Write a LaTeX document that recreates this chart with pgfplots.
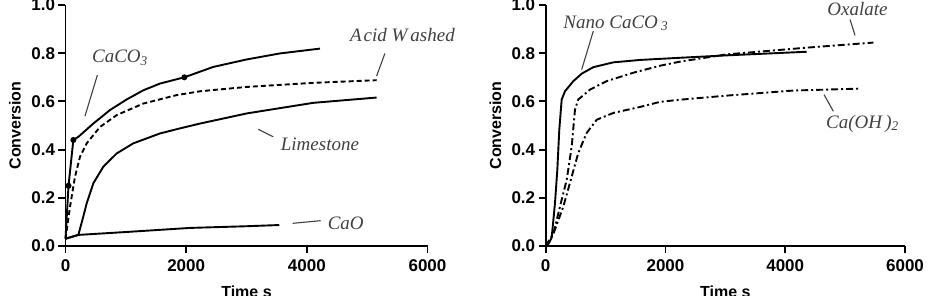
\documentclass[border=0pt]{standalone}
\usepackage{fontspec}
\setmainfont{Liberation Sans}
\newfontfamily\lserif{Liberation Serif}
\usepackage{pgfplots}
\pgfplotsset{compat=1.18}
\definecolor{anno}{HTML}{404040}
\tikzset{anno/.style={font=\lserif\itshape\fontsize{19}{19}\selectfont, text=anno, inner sep=0pt, anchor=center},
  leader/.style={draw=anno, line width=1.1pt}}
\pgfplotsset{prism/.style={
  scale only axis, anchor=south west, height=241pt,
  xmin=0, xmax=6000, ymin=0, ymax=1,
  axis lines=left, axis line style={-, line width=1.9pt},
  xtick={0,2000,4000,6000}, ytick={0,0.2,0.4,0.6,0.8,1},
  tick style={line width=1.9pt, black}, major tick length=7pt, tick align=outside,
  /pgf/number format/assume math mode=true,
  xticklabel style={/pgf/number format/1000 sep={}, yshift=-3pt},
  yticklabel style={/pgf/number format/.cd, fixed, fixed zerofill, precision=1},
  tick label style={font=\fontsize{17}{17}\selectfont\bfseries},
  xlabel={Time s}, ylabel={Conversion},
  label style={font=\fontsize{16}{16}\selectfont\bfseries},
  xlabel style={at={(axis description cs:0.5,0)}, anchor=base, yshift=-52pt, inner sep=0pt},
  ylabel style={at={(axis description cs:-0.14,0.5)}, anchor=center, rotate=0, inner sep=0pt},
  clip=false,
  every axis plot/.append style={line width=1.9pt, black},
}}
\begin{document}
\begin{tikzpicture}
\begin{axis}[prism, at={(65.5pt,50pt)}, width=362pt]
% CaCO3
\addplot[no marks] coordinates {(0,0.03) (50,0.25) (130,0.44) (213,0.453) (461,0.508) (737,0.564) (1014,0.608) (1289,0.646) (1566,0.674) (1970,0.70) (2449,0.743) (3002,0.774) (3554,0.799) (4217,0.819)};
\addplot[only marks, mark=*, mark size=2pt] coordinates {(50,0.25) (130,0.44) (1970,0.70)};
% Acid washed
\addplot[no marks, dash pattern=on 5pt off 3pt] coordinates {(0,0.03) (75,0.163) (157,0.287) (240,0.37) (351,0.426) (572,0.494) (848,0.543) (1289,0.591) (1842,0.626) (2229,0.642) (3002,0.66) (4106,0.677) (5156,0.688)};
% Limestone
\addplot[no marks] coordinates {(0,0.03) (213,0.046) (295,0.122) (351,0.177) (461,0.26) (627,0.329) (848,0.384) (1124,0.426) (1566,0.467) (1897,0.488) (2229,0.508) (3002,0.55) (4106,0.594) (5156,0.616)};
% CaO
\addplot[no marks] coordinates {(0,0.03) (213,0.046) (1000,0.058) (2063,0.075) (3000,0.082) (3543,0.087)};
\node[anno] at (axis cs:903,0.78) {CaCO\textsubscript{3}};
\draw[leader] (axis cs:528,0.709) -- (axis cs:323,0.539);
\node[anno] at (axis cs:5584,0.874) {A\kern2pt cid W\kern3pt ashed};
\draw[leader] (axis cs:5294,0.799) -- (axis cs:5156,0.705);
\node[anno] at (axis cs:4217,0.423) {Limestone};
\draw[leader] (axis cs:3195,0.484) -- (axis cs:3443,0.453);
\node[anno] at (axis cs:4645,0.095) {CaO};
\draw[leader] (axis cs:3765,0.094) -- (axis cs:4229,0.105);
\end{axis}
\begin{axis}[prism, at={(545.7pt,50pt)}, width=359.3pt]
% Nano CaCO3
\addplot[no marks] coordinates {(0,0) (50,0.01) (100,0.035) (155,0.178) (194,0.316) (227,0.483) (267,0.608) (322,0.642) (461,0.684) (601,0.715) (795,0.742) (1129,0.762) (1575,0.772) (2243,0.781) (3023,0.791) (4359,0.806)};
% Oxalate
\addplot[no marks, dash pattern=on 7pt off 3pt on 2pt off 3pt] coordinates {(0,0) (127,0.05) (239,0.164) (351,0.275) (434,0.413) (489,0.566) (544,0.608) (740,0.649) (1019,0.684) (1463,0.719) (1909,0.748) (2243,0.765) (3023,0.795) (4359,0.823) (5471,0.844)};
% Ca(OH)2
\addplot[no marks, dash pattern=on 7pt off 3pt on 2pt off 3pt] coordinates {(0,0) (127,0.05) (295,0.164) (434,0.288) (544,0.386) (684,0.469) (852,0.524) (1129,0.552) (1575,0.577) (1909,0.598) (2243,0.607) (3023,0.624) (4136,0.645) (5249,0.653)};
\node[anno] at (axis cs:1171,0.924) {Nano CaCO\,\textsubscript{3}};
\draw[leader] (axis cs:795,0.892) -- (axis cs:601,0.732);
\node[anno] at (axis cs:5207,0.982) {Oxalate};
\draw[leader] (axis cs:5082,0.94) -- (axis cs:5165,0.874);
\node[anno] at (axis cs:5290,0.508) {Ca(OH\,)\textsubscript{2}};
\draw[leader] (axis cs:4648,0.628) -- (axis cs:4803,0.559);
\end{axis}
\pgfresetboundingbox
\path[use as bounding box] (0pt,0pt) rectangle (939pt,296pt);
\end{tikzpicture}
\end{document}
